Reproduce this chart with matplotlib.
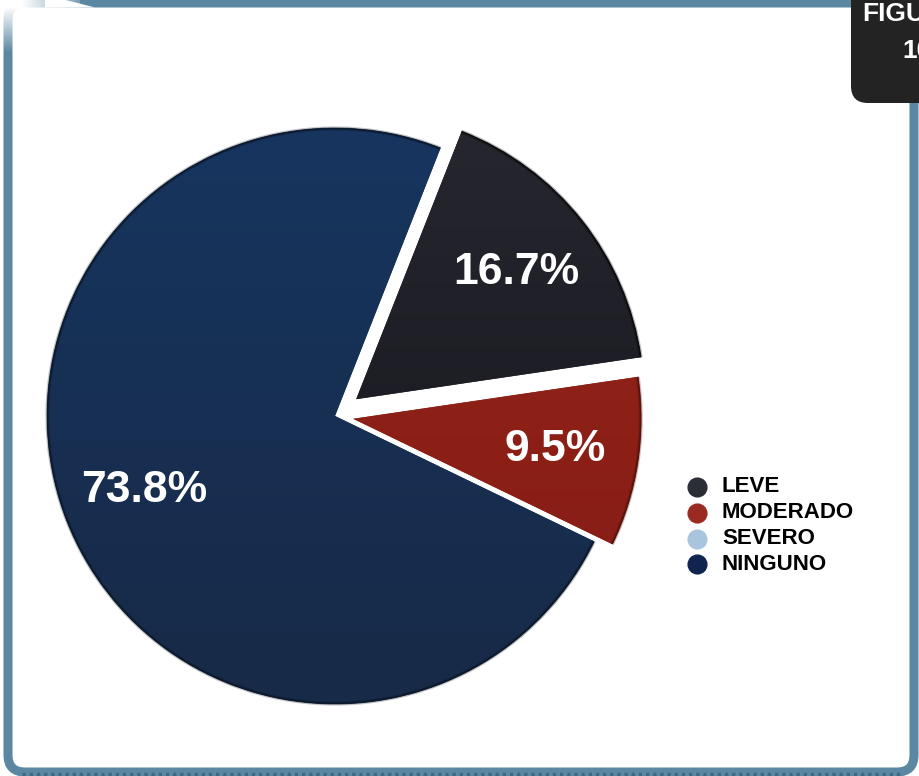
import matplotlib
matplotlib.use("Agg")
import matplotlib.pyplot as plt
import numpy as np
from matplotlib.patches import FancyBboxPatch, Arc, Polygon
from matplotlib.colors import LinearSegmentedColormap, to_rgb

# ---- data -------------------------------------------------------------
categories = ["LEVE", "MODERADO", "SEVERO", "NINGUNO"]
values = [16.7, 9.5, 0.0, 73.8]
slice_colors = ["#1d1e25", "#8d2018", "#a9c5dd", "#17305a"]
legend_colors = ["#2b2e37", "#9b2a22", "#a9c5dd", "#0f2550"]
title_lines = ["FIGURA", "10"]

# ---- styling ----------------------------------------------------------
RADIUS = 288
explode_frac = [0.094, 0.064, 0.0, 0.0]
shade_top = ["#26272f", "#952419", "#b5cde2", "#16355f"]
shade_bottom = ["#15161b", "#841c15", "#9dbbd5", "#182a47"]
rim_colors = ["#08080b", "#4e0f0b", "#6a8aa6", "#0a1424"]
frame_blue = "#5b87a2"
FONT = ["Liberation Sans", "DejaVu Sans"]

W, H = 920, 776
fig = plt.figure(figsize=(W / 100, H / 100), dpi=100)
ax = fig.add_axes([0, 0, 1, 1])
fig.patch.set_facecolor("white")


def Y(y_img):
    """Convert a top-down pixel row into the axes' bottom-up coordinate."""
    return H - y_img


# ---- panel frame ------------------------------------------------------
panel = FancyBboxPatch((8, 4), 906, 769,
                       boxstyle="round,pad=0,rounding_size=17",
                       fc="white", ec=frame_blue, lw=6.5, zorder=0)
ax.add_patch(panel)

# dotted strip along the bottom edge
ax.plot([22, 900], [2.2, 2.2], color="#3d6885", lw=2.4,
        dashes=(1.0, 1.15), solid_capstyle="butt", zorder=0.5)

# fade the top-left corner of the frame
fade = np.ones((60, 80, 4))
yy = np.linspace(0, 1, 60)[:, None]
xx = np.linspace(0, 1, 80)[None, :]
fade[..., 3] = np.clip(1.15 - 1.3 * yy, 0, 1) * np.clip(1.3 - 1.1 * xx, 0, 1)
ax.imshow(fade, extent=(0, 80, Y(60), Y(0)), origin="upper",
          aspect="auto", zorder=0.6, interpolation="bilinear")
ax.add_patch(Polygon([(45, Y(-2)), (58, Y(-2)), (95, Y(7.5)), (45, Y(7.5))],
                     closed=True, fc="white", ec="none", zorder=0.7))

# dark title tab, top right
tab = FancyBboxPatch((851, Y(103)), 120, 140,
                     boxstyle="round,pad=0,rounding_size=17",
                     fc="#232323", ec="none", zorder=1)
ax.add_patch(tab)
ax.text(862, Y(14), title_lines[0], color="white", fontsize=19,
        fontweight="bold", family=FONT, ha="left", va="center", zorder=2)
ax.text(902, Y(51), title_lines[1], color="white", fontsize=19,
        fontweight="bold", family=FONT, ha="left", va="center", zorder=2)

# ---- pie --------------------------------------------------------------
wedges, texts, autotexts = ax.pie(
    values, explode=[e * RADIUS for e in explode_frac], colors=slice_colors,
    startangle=68.5, counterclock=False,
    center=(335, Y(416)), radius=RADIUS, frame=True,
    autopct=lambda p: f"{p:.1f}%" if p > 0 else "",
    pctdistance=0.71,
    wedgeprops=dict(lw=0, zorder=3),
    textprops=dict(color="white", fontsize=32, fontweight="bold",
                   family=FONT, zorder=6),
)

for w, v, top, bot, rim in zip(wedges, values, shade_top, shade_bottom, rim_colors):
    if v <= 0:
        w.set_visible(False)
        continue
    cx, cy = w.center
    r = w.r
    cmap = LinearSegmentedColormap.from_list("shade", [to_rgb(bot), to_rgb(top)])
    grad = np.linspace(0, 1, 256)[:, None] * np.ones((1, 4))
    im = ax.imshow(grad, cmap=cmap, extent=(cx - r, cx + r, cy - r, cy + r),
                   origin="lower", aspect="auto", zorder=4,
                   interpolation="bilinear")
    im.set_clip_path(w)
    # soft dark rim along the outer arc
    for lw, a in ((3.0, 0.25), (1.4, 0.7)):
        ax.add_patch(Arc((cx, cy), 2 * r - 1, 2 * r - 1, theta1=w.theta1,
                         theta2=w.theta2, color=rim, lw=lw, alpha=a, zorder=5))

for t in autotexts:
    t.set_zorder(6)

# ---- legend -----------------------------------------------------------
for i, (name, col) in enumerate(zip(categories, legend_colors)):
    y = Y(487 + i * 25.8)
    ax.plot([697], [y], marker="o", ms=13.5, color=col, mec=col, ls="none", zorder=6)
    ax.text(722, y, name, fontsize=16, fontweight="bold", family=FONT,
            color="black", ha="left", va="center", zorder=6)

ax.set_xlim(0, W)
ax.set_ylim(0, H)
ax.set_aspect("auto")
ax.axis("off")

fig.savefig("out.png", dpi=100, facecolor="white")
